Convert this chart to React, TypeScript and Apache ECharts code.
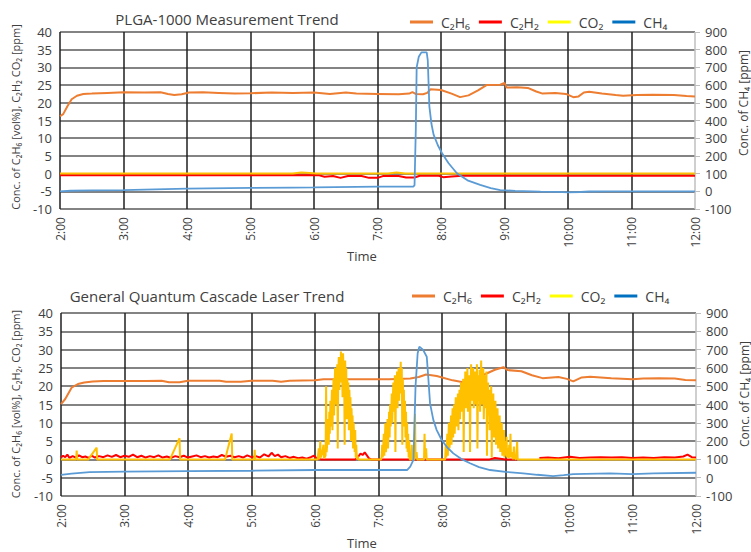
import React, { useEffect, useRef } from "react";
import * as echarts from "echarts";

// ---------- data (minutes since 0:00, value) ----------
const timeTicks = [120, 180, 240, 300, 360, 420, 480, 540, 600, 660, 720];
const seriesNames = ["C₂H₆", "C₂H₂", "CO₂", "CH₄"];

// Top panel: PLGA-1000
const c2h6Top: number[][] = [
  [120, 16.2], [123, 16.8], [127, 19], [131, 21], [136, 22], [142, 22.5], [150, 22.6], [165, 22.8], [180, 23],
  [200, 22.9], [215, 23], [222, 22.5], [228, 22.2], [235, 22.4], [242, 22.9], [255, 23], [270, 22.8], [285, 22.6],
  [300, 22.7], [320, 22.9], [340, 22.8], [360, 22.9], [375, 22.5], [390, 22.9], [400, 22.6], [420, 22.5],
  [440, 22.4], [450, 22.6], [453, 23], [456, 22.5], [463, 22.4], [467, 22.8], [470, 23.8], [480, 23.6],
  [490, 22.6], [498, 21.6], [506, 22.1], [515, 23.5], [523, 25], [536, 25.1], [540, 25.6], [542, 24.3],
  [552, 24.4], [562, 24.2], [570, 23.2], [576, 22.6], [588, 22.8], [598, 22.5], [605, 21.6], [610, 21.8],
  [615, 22.9], [620, 23.1], [632, 22.6], [645, 22.2], [652, 22], [665, 22.2], [680, 22.3], [700, 22.2],
  [712, 21.9], [720, 21.8],
];
const c2h2Top: number[][] = [
  [120, -0.5], [200, -0.5], [300, -0.5], [365, -0.5], [370, -0.9], [378, -0.7], [385, -1.2], [392, -0.7],
  [405, -0.7], [412, -1.2], [420, -1.2], [425, -0.7], [440, -0.7], [447, -1.1], [455, -1.1], [460, -0.6],
  [478, -0.6], [482, -1], [490, -0.8], [500, -0.6], [560, -0.6], [640, -0.6], [720, -0.6],
];
const co2Top: number[][] = [
  [120, 0], [340, 0], [348, 0.3], [356, 0.2], [362, 0], [430, 0], [438, 0.3], [446, 0], [720, 0],
];
const ch4Top: number[][] = [
  [120, 0], [130, 3], [150, 5], [180, 7], [200, 10], [240, 15], [280, 18], [300, 19], [340, 21], [360, 22],
  [400, 25], [420, 26], [454, 27], [455, 35], [456.2, 350], [457, 700], [459, 760], [461.5, 785], [466.5, 785],
  [467.5, 740], [469, 480], [471, 380], [473, 320], [477, 260], [481, 215], [487, 160], [495, 102], [505, 62],
  [517, 36], [527, 18], [536, 7], [550, 2], [574, -2], [590, -3], [600, -6], [612, -4], [620, -1], [640, 0],
  [680, 0], [720, 0],
];

// Bottom panel: General QCL
const c2h6Bot: number[][] = [
  [120, 15.1], [124, 16.5], [130, 19.6], [136, 20.6], [142, 21], [150, 21.3], [160, 21.4], [200, 21.4],
  [215, 21.5], [222, 21.1], [232, 21.1], [240, 21.5], [270, 21.5], [276, 21.2], [290, 21.2], [300, 21.5],
  [320, 21.5], [328, 21.2], [336, 21.5], [360, 21.6], [368, 21.9], [400, 21.9], [430, 21.9], [450, 22.1],
  [458, 22.5], [465, 23.2], [475, 22.8], [490, 21.6], [500, 21.1], [510, 21.8], [520, 23.2], [530, 24.5],
  [538, 25.2], [542, 24.4], [555, 24.1], [565, 23], [575, 22.2], [590, 22.5], [598, 22], [604, 21.3],
  [612, 22.4], [620, 22.6], [640, 22.2], [660, 21.9], [670, 22.1], [685, 22.2], [700, 22.1], [710, 21.7],
  [720, 21.6],
];
const c2h2Bot: (number | null)[][] = [
  [120, 0.5], [122, 1], [124, 0.6], [126, 1.3], [128, 0.4], [131, 0.9], [134, 0.5], [137, 1.1], [140, 0.6],
  [143, 0.8], [146, 0.4], [149, 1], [152, 0.5], [156, 0.9], [160, 0.6], [164, 1.1], [168, 0.7], [172, 1.2],
  [176, 0.6], [180, 1], [184, 0.7], [188, 1.3], [192, 0.6], [196, 1], [200, 0.5], [204, 0.9], [208, 0.6],
  [212, 1.1], [216, 0.5], [220, 0.8], [224, 0.4], [228, 0.9], [232, 0.6], [236, 1], [240, 0.5], [244, 0.8],
  [248, 1.1], [252, 0.6], [256, 0.9], [260, 0.5], [264, 0.8], [268, 0.6], [272, 1.2], [276, 0.7], [280, 1],
  [284, 0.6], [288, 0.9], [292, 0.5], [296, 1.1], [300, 0.6], [304, 0.9], [308, 0.5], [312, 1.4], [316, 0.8],
  [319, 1.8], [322, 0.9], [325, 1.3], [328, 0.6], [332, 0.9], [336, 0.4], [340, 0.7], [344, 0.3], [348, 0.5],
  [352, 0.2], [356, 0.6], [359, 1], [362, 0.2], [366, 0], [398, 0], [401, 0.8], [403, 1.6], [405, 1.2],
  [407, 1.9], [409, 1.1], [411, 0.3], [413, 0], [525, 0], [530, 0.4], [535, 0.2], [540, 0], [551, 0],
  [552, null], [572, 0.4], [580, 0.5], [590, 0.3], [601, 0.7], [610, 0.4], [620, 0.5], [630, 0.6], [640, 0.5],
  [650, 0.6], [660, 0.4], [670, 0.5], [680, 0.4], [690, 0.6], [700, 0.5], [708, 0.8], [712, 1.3], [716, 0.6],
  [720, 0.5],
];
const co2Bot: number[][] = [
  [120, 0], [134.3, 0], [134.8, 2.4], [135.3, 0], [145.8, 0], [153.7, 3.2], [154.1, 0], [223, 0], [232, 5.8],
  [232.5, 0], [275, 0], [281.3, 7.1], [281.8, 0], [302.5, 0], [303, 2.6], [303.5, 0], [362.5, 0],
  // burst 1
  [363.5, 3], [364, 0], [365, 5], [365.5, 0.5], [367, 2], [368, 4], [368.5, 0.3], [370, 1], [370.5, 20],
  [371, 2], [372, 6], [372.5, 11], [373, 4], [373.5, 13], [374, 7], [374.5, 16], [375, 9], [375.5, 14],
  [376, 19], [376.5, 8], [377, 17], [377.5, 22], [378, 12], [378.5, 20], [379, 25], [379.5, 15], [380, 23],
  [380.5, 18], [381, 26], [381.5, 3], [382, 24], [382.5, 28], [383, 19], [383.5, 27], [384, 21], [384.5, 29.5],
  [385, 22], [385.5, 28], [386, 17], [386.5, 29], [387, 24], [387.5, 26], [388, 4], [388.5, 27], [389, 20],
  [389.5, 25], [390, 11], [390.5, 22], [391, 16], [391.5, 21], [392, 8], [392.5, 19], [393, 12], [393.5, 17],
  [394, 5], [394.5, 14], [395, 9], [395.5, 12], [396, 3], [396.5, 10], [397, 6], [397.5, 2], [398, 8],
  [398.5, 0.5], [399, 4], [399.5, 0], [400, 1], [401, 0], [422.5, 0],
  // burst 2
  [423, 1], [423.5, 4], [424, 0.5], [425, 7], [425.5, 1], [426.5, 9.9], [427, 2], [428, 5], [428.5, 11],
  [429, 3], [429.5, 8], [430, 13], [430.5, 6], [431, 15], [431.5, 9], [432, 12], [432.5, 18], [433, 10],
  [433.5, 16], [434, 21], [434.5, 13], [435, 19], [435.5, 23], [436, 2], [436.5, 22], [437, 17], [437.5, 24],
  [438, 14], [438.5, 21], [439, 25], [439.5, 16], [440, 23], [440.5, 19], [441, 26.7], [441.5, 18], [442, 25],
  [442.5, 4], [443, 22], [443.5, 12], [444, 19], [444.5, 9], [445, 16], [445.5, 6], [446, 13], [446.5, 3],
  [447, 10], [447.5, 2], [448, 7], [448.5, 0.5], [449, 5], [449.5, 0], [451, 0], [451.5, 4], [452, 0],
  [454, 0], [454.5, 12.5], [455, 0.5], [456, 2], [456.5, 0], [463, 0], [463.5, 7], [464, 0.5], [465, 3],
  [465.5, 0], [483, 0],
  // burst 3
  [483.5, 4], [484, 0.5], [485, 7], [485.5, 1], [486.5, 10], [487, 3], [488, 6], [488.5, 12], [489, 4],
  [489.5, 9], [490, 14], [490.5, 6], [491, 11], [491.5, 15], [492, 7], [492.5, 13], [493, 17], [493.5, 9],
  [494, 16], [494.5, 12], [495, 18], [495.5, 8], [496, 14], [496.5, 19], [497, 11], [497.5, 17], [498, 21],
  [498.5, 13], [499, 19], [499.5, 15], [500, 22], [500.5, 2], [501, 20], [501.5, 17], [502, 24], [502.5, 14],
  [503, 21], [503.5, 18], [504, 25], [504.5, 13], [505, 22], [505.5, 17], [506, 23], [506.5, 2], [507, 20],
  [507.5, 26], [508, 16], [508.5, 23], [509, 19], [509.5, 25], [510, 14], [510.5, 21], [511, 24], [511.5, 15],
  [512, 22], [512.5, 18], [513, 26], [513.5, 3], [514, 20], [514.5, 23], [515, 16], [515.5, 24.5], [516, 13],
  [516.5, 21], [517, 27], [517.5, 15], [518, 22], [518.5, 18], [519, 25], [519.5, 11], [520, 19], [520.5, 23],
  [521, 14], [521.5, 20], [522, 24], [522.5, 1], [523, 18], [523.5, 21], [524, 12], [524.5, 19], [525, 8],
  [525.5, 17], [526, 13], [526.5, 20], [527, 0.5], [527.5, 15], [528, 11], [528.5, 18], [529, 6], [529.5, 14],
  [530, 10], [530.5, 16], [531, 4], [531.5, 12], [532, 8], [532.5, 14], [533, 3], [533.5, 11], [534, 6],
  [534.5, 12], [535, 2], [535.5, 9], [536, 5], [536.5, 10], [537, 1], [537.5, 7], [538, 3], [538.5, 8],
  [539, 0.5], [539.5, 5], [540, 1], [541, 6.2], [541.5, 0.5], [542, 3], [543, 0.3], [543.5, 4], [544, 0.5],
  [544.7, 7], [545.2, 0.5], [546, 2], [547, 0], [548, 3.5], [548.5, 0.3], [550, 0], [551, 4.8], [551.5, 0],
  [720, 0],
];
const ch4Bot: number[][] = [
  [120, 15], [130, 22], [147, 30], [180, 33], [240, 36], [300, 38], [360, 42], [420, 42], [447, 42], [450, 60],
  [453, 97], [454, 300], [455, 500], [457, 680], [458.6, 716], [462, 700], [465.6, 661], [467, 550],
  [468.7, 406], [471.8, 316], [475, 260], [479.7, 206], [485, 165], [490.7, 133], [498, 103], [506.5, 79],
  [515, 58], [525.4, 42], [540, 32], [556.8, 24], [570, 16], [585, 9], [595, 14], [604, 20], [638.8, 24],
  [660, 19], [680, 24], [720, 27],
];

const legendColors = ["#ED7D31", "#FF0000", "#FFFF00", "#0070C0"];
const lineColors = ["#ED7D31", "#FF0000", "#FFC000", "#5B9BD5"];

const FONT = "'Open Sans', sans-serif";
const TXT = "#404040";

export default function App() {
  const ref = useRef<HTMLDivElement>(null);
  useEffect(() => {
    if (!ref.current) return;
    const chart = echarts.init(ref.current, undefined, { renderer: "svg" });
    const vColors = timeTicks.map((t, i) => (i === timeTicks.length - 1 ? "#BFBFBF" : "#1f1f1f"));
    const fmt = (v: number) => `${Math.floor(v / 60)}:00`;
    const grids = [
      { left: 60, top: 32, width: 635, height: 177 },
      { left: 61, top: 313, width: 635, height: 183 },
    ];
    const xAxes = grids.map((_, gi) => ({
      gridIndex: gi,
      type: "value",
      min: 120,
      max: 720,
      interval: 60,
      axisLabel: { rotate: 90, formatter: fmt, fontSize: 12, color: TXT, margin: 8, fontFamily: FONT },
      axisLine: { show: false },
      axisTick: { show: false },
      splitLine: { show: true, lineStyle: { color: vColors, width: 1.5 } },
    }));
    const yAxes: any[] = [];
    grids.forEach((_, gi) => {
      yAxes.push({
        gridIndex: gi,
        type: "value",
        position: "left",
        min: -10,
        max: 40,
        interval: 5,
        axisLabel: { fontSize: 13, color: TXT, margin: 8, fontFamily: FONT },
        axisLine: { show: false },
        axisTick: { show: false },
        splitLine: { show: true, lineStyle: { color: "#5a5a5a", width: 1.5 } },
      });
      yAxes.push({
        gridIndex: gi,
        type: "value",
        position: "right",
        min: -100,
        max: 900,
        interval: 100,
        axisLabel: { fontSize: 13, color: TXT, margin: 10, fontFamily: FONT },
        axisLine: { show: false },
        axisTick: { show: true, length: 5, lineStyle: { color: "#BFBFBF", width: 1 } },
        splitLine: { show: false },
      });
    });
    const panels = [
      [c2h6Top, c2h2Top, co2Top, ch4Top],
      [c2h6Bot, c2h2Bot, co2Bot, ch4Bot],
    ];
    const series: any[] = [];
    panels.forEach((sets, gi) => {
      sets.forEach((data, si) => {
        series.push({
          type: "line",
          name: seriesNames[si],
          xAxisIndex: gi,
          yAxisIndex: gi * 2 + (si === 3 ? 1 : 0),
          data,
          showSymbol: false,
          symbol: "none",
          connectNulls: false,
          itemStyle: { color: legendColors[si] },
          lineStyle: { color: lineColors[si], width: si === 3 ? 1.8 : 2 },
          z: 2 + si,
        });
      });
    });
    const legendBase = {
      data: seriesNames,
      icon: "rect",
      itemWidth: 23,
      itemHeight: 3,
      itemGap: 9,
      textStyle: { fontSize: 14, color: TXT, fontFamily: FONT, padding: [0, 0, 0, 3] },
    };
    const text = (t: string, x: number, y: number, size: number, rot = 0) => ({
      type: "text",
      x,
      y,
      rotation: rot,
      style: { text: t, fontSize: size, fill: TXT, fontFamily: FONT, textAlign: "center", textVerticalAlign: "middle" },
    });
    chart.setOption({
      animation: false,
      backgroundColor: "#ffffff",
      grid: grids,
      xAxis: xAxes,
      yAxis: yAxes,
      series,
      legend: [
        { ...legendBase, left: 405, top: 10 },
        { ...legendBase, left: 407, top: 284 },
      ],
      graphic: [
        text("PLGA-1000 Measurement Trend", 227, 19, 15),
        text("General Quantum Cascade Laser Trend", 207, 296, 15),
        text("Time", 362, 256, 13),
        text("Time", 362, 543, 13),
        text("Conc. of C₂H₆ [vol%], C₂H₂ CO₂ [ppm]", 15, 117, 11, Math.PI / 2),
        text("Conc. of C₂H₆ [vol%], C₂H₂, CO₂ [ppm]", 15, 404, 11, Math.PI / 2),
        text("Conc. of CH₄ [ppm]", 743, 103, 12, Math.PI / 2),
        text("Conc. of CH₄ [ppm]", 744, 394, 12, Math.PI / 2),
      ],
    });
    return () => chart.dispose();
  }, []);
  return (
    <div
      ref={ref}
      style={{ position: "absolute", left: 0, top: 0, width: 751, height: 552, background: "#fff" }}
    />
  );
}
